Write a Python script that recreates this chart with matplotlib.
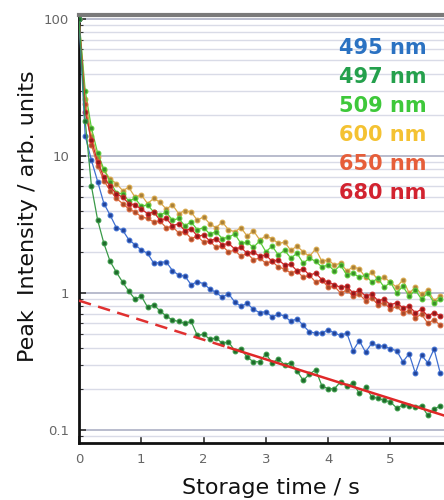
import numpy as np
import matplotlib
matplotlib.use("Agg")
import matplotlib.pyplot as plt
from matplotlib.ticker import LogLocator, FixedLocator, NullFormatter

# storage time, s (one point every 0.1 s)
time_s = [round(0.1 * i, 1) for i in range(59)]

int_495 = [100, 14, 9.3, 6.5, 4.5, 3.7, 3.0, 2.88, 2.45, 2.25,
           2.06, 1.95, 1.65, 1.67, 1.69, 1.46, 1.35, 1.33, 1.15, 1.21,
           1.17, 1.07, 1.01, 0.93, 0.99, 0.86, 0.80, 0.84, 0.76, 0.72,
           0.73, 0.67, 0.70, 0.68, 0.62, 0.65, 0.58, 0.52, 0.51, 0.51,
           0.54, 0.51, 0.49, 0.51, 0.38, 0.45, 0.37, 0.43, 0.41, 0.41,
           0.39, 0.38, 0.315, 0.36, 0.26, 0.35, 0.31, 0.39, 0.26]

int_497 = [100, 18, 6.0, 3.4, 2.3, 1.7, 1.42, 1.2, 1.03, 0.90,
           0.95, 0.79, 0.82, 0.74, 0.68, 0.635, 0.62, 0.60, 0.62, 0.49,
           0.50, 0.46, 0.47, 0.43, 0.44, 0.38, 0.39, 0.34, 0.315, 0.315,
           0.36, 0.31, 0.33, 0.30, 0.31, 0.27, 0.23, 0.256, 0.275, 0.21,
           0.20, 0.20, 0.225, 0.21, 0.22, 0.185, 0.205, 0.175, 0.17, 0.165,
           0.16, 0.145, 0.152, 0.15, 0.148, 0.15, 0.128, 0.142, 0.15]

int_509 = [100, 30, 16, 10.5, 8.0, 6.5, 5.4, 5.3, 4.7, 4.9,
           4.3, 4.4, 3.9, 3.7, 3.9, 3.4, 3.5, 3.1, 3.3, 2.9,
           3.0, 2.7, 2.8, 2.5, 2.55, 2.7, 2.3, 2.35, 2.15, 2.4,
           2.0, 2.2, 1.9, 2.05, 1.8, 1.95, 1.65, 1.8, 1.7, 1.55,
           1.6, 1.45, 1.6, 1.35, 1.4, 1.3, 1.35, 1.2, 1.28, 1.1,
           1.2, 1.0, 1.12, 0.95, 1.05, 0.9, 1.0, 0.85, 0.9]

int_600 = [100, 26, 14, 9.8, 7.9, 6.8, 6.3, 5.6, 5.9, 5.0,
           5.2, 4.5, 4.9, 4.6, 4.1, 4.4, 3.8, 4.0, 3.9, 3.4,
           3.6, 3.2, 3.0, 3.3, 2.9, 2.8, 3.0, 2.6, 2.85, 2.45,
           2.6, 2.5, 2.3, 2.35, 2.05, 2.2, 2.0, 1.85, 2.1, 1.7,
           1.75, 1.6, 1.65, 1.45, 1.55, 1.5, 1.3, 1.42, 1.25, 1.3,
           1.2, 1.1, 1.25, 1.0, 1.1, 0.98, 1.05, 0.88, 0.95]

int_650 = [100, 24, 12, 8.5, 6.6, 5.6, 4.9, 4.5, 4.1, 3.9,
           3.6, 3.5, 3.3, 3.35, 3.0, 3.05, 2.75, 2.8, 2.5, 2.6,
           2.35, 2.4, 2.15, 2.2, 2.0, 2.05, 1.85, 1.95, 1.75, 1.8,
           1.65, 1.7, 1.55, 1.5, 1.4, 1.45, 1.3, 1.35, 1.2, 1.25,
           1.1, 1.12, 1.0, 1.05, 0.95, 0.98, 0.88, 0.92, 0.82, 0.85,
           0.76, 0.8, 0.72, 0.74, 0.66, 0.7, 0.6, 0.64, 0.58]

int_680 = [100, 21, 13, 9.0, 7.0, 6.0, 5.3, 5.0, 4.5, 4.4,
           4.1, 3.8, 3.9, 3.4, 3.5, 3.1, 3.2, 2.85, 2.95, 2.6,
           2.65, 2.4, 2.5, 2.25, 2.3, 2.1, 2.15, 1.95, 2.0, 1.85,
           1.9, 1.7, 1.75, 1.6, 1.62, 1.45, 1.5, 1.35, 1.4, 1.25,
           1.2, 1.15, 1.1, 1.12, 1.0, 1.05, 0.95, 0.98, 0.88, 0.9,
           0.82, 0.85, 0.78, 0.8, 0.72, 0.76, 0.68, 0.72, 0.68]

# single-exponential fit of the slow 497 nm component
fit_dash_t = [0.0, 2.4]
fit_dash_v = [0.88, 0.40]
fit_solid_t = [2.4, 5.9]
fit_solid_v = [0.40, 0.126]

labels = ["495 nm", "497 nm", "509 nm", "600 nm", "650 nm", "680 nm"]
text_colors = ["#2b72c2", "#24a04c", "#3ec83a", "#f4c232", "#e65e3a", "#d22330"]
line_colors = ["#3f6fd0", "#3a9a48", "#5ccc3a", "#d9a84a", "#d8683c", "#cc2a2a"]
dot_colors = ["#23449a", "#1f6a2c", "#3a8f2a", "#a8803a", "#a84a2a", "#8e1a1a"]

fig = plt.figure(figsize=(4.44, 5.0), dpi=100)
ax = fig.add_axes([79 / 444, 57 / 500, 365 / 444, 428 / 500])

series = [int_495, int_497, int_509, int_600, int_650, int_680]
# draw back to front so the lower curves stay visible
for i in [3, 2, 4, 5, 0, 1]:
    ax.plot(time_s, series[i], "-o", color=line_colors[i], lw=0.9,
            ms=3.4, mfc=dot_colors[i], mec=line_colors[i], mew=0.8,
            zorder=3, clip_on=True)

ax.plot(fit_dash_t, fit_dash_v, "--", color="#e03030", lw=1.8,
        dashes=(5, 3), zorder=4)
ax.plot(fit_solid_t, fit_solid_v, "-", color="#e02828", lw=1.8, zorder=4)

ax.set_yscale("log")
ax.set_xlim(0, 5.86)
ax.set_ylim(0.0804, 107)

ax.yaxis.set_major_locator(FixedLocator([0.1, 1, 10, 100]))
ax.yaxis.set_minor_locator(LogLocator(base=10, subs=np.arange(2, 10)))
ax.yaxis.set_minor_formatter(NullFormatter())
ax.set_yticklabels(["0.1", "1", "10", "100"])
ax.set_xticks([0, 1, 2, 3, 4, 5])

ax.grid(True, which="major", axis="y", color="#b9bccd", lw=1.4, zorder=0)
ax.grid(True, which="minor", axis="y", color="#d9dbe7", lw=1.0, zorder=0)
ax.set_axisbelow(True)

ax.tick_params(which="both", direction="in", colors="#333333",
               labelcolor="#666666", labelsize=9.5)
ax.tick_params(which="major", length=5, width=1.2, pad=7)
ax.tick_params(which="minor", length=3, width=0.8)

ax.spines["left"].set_linewidth(2)
ax.spines["bottom"].set_linewidth(2)
ax.spines["left"].set_color("#111111")
ax.spines["bottom"].set_color("#111111")
ax.spines["top"].set_linewidth(3)
ax.spines["top"].set_color("#7a7a7a")
ax.spines["right"].set_visible(False)

fig.text(271 / 444, 1 - 494 / 500, "Storage time / s", fontsize=16,
         ha="center", va="baseline", color="#111111")
fig.text(34 / 444, 1 - 216 / 500, "Peak  Intensity / arb. units",
         fontsize=16, rotation=90, rotation_mode="anchor",
         ha="center", va="baseline", color="#111111")

for k, (lab, c) in enumerate(zip(labels, text_colors)):
    ax.text(0.953, 0.923 - 0.0678 * k, lab, transform=ax.transAxes,
            color=c, fontsize=15, fontweight="bold", ha="right",
            va="center", zorder=5)

fig.savefig("out.png", dpi=100)
plt.close(fig)
